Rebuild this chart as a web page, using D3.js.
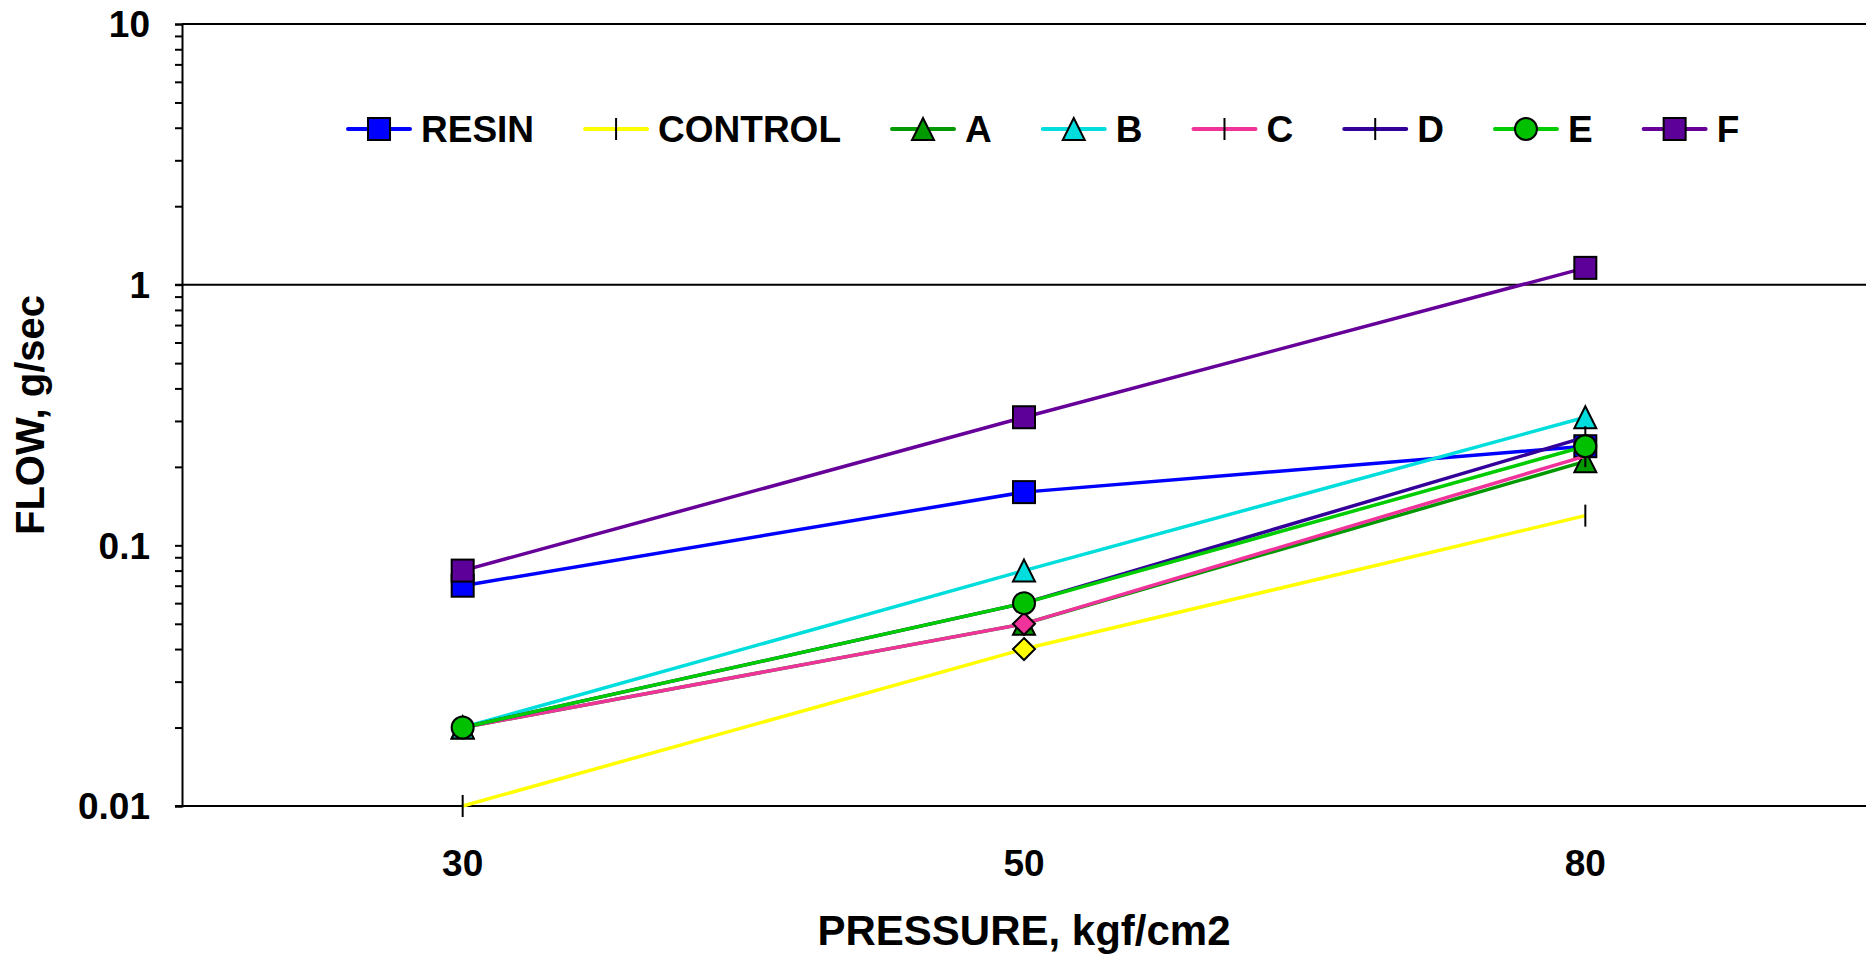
<!DOCTYPE html>
<html lang="en">
<head>
<meta charset="utf-8">
<title>Flow vs Pressure</title>
<script src="https://d3js.org/d3.v7.min.js"></script>
<style>
  body { margin: 0; background: #fff; }
  svg { display: block; font-family: "Liberation Sans", Arial, sans-serif; font-weight: bold; }
</style>
</head>
<body>
<svg width="1866" height="959"></svg>
<script>
// data
var pressures = ['30', '50', '80'];
var seriesNames = ['RESIN', 'CONTROL', 'A', 'B', 'C', 'D', 'E', 'F'];
var resin   = [0.07, 0.16, 0.24];
var control = [0.01, 0.04, 0.13];
var seriesA = [0.02, 0.05, 0.21];
var seriesB = [0.02, 0.08, 0.31];
var seriesC = [0.02, 0.05, 0.22];
var seriesD = [0.02, 0.06, 0.26];
var seriesE = [0.02, 0.06, 0.24];
var seriesF = [0.08, 0.31, 1.16];
var yTicks = [0.01, 0.1, 1, 10];
var yTickLabels = ['0.01', '0.1', '1', '10'];

var values = [resin, control, seriesA, seriesB, seriesC, seriesD, seriesE, seriesF];
var lineColors = ['#0000ff', '#ffff00', '#009900', '#00dddd', '#f0339a', '#330099', '#00cc00', '#660099'];
var fillColors = ['#0000ff', '#ffff00', '#009900', '#00dddd', '#f0339a', '#330099', '#00c000', '#5c0099'];
// marker per series (per point where Excel overrode it)
var markers = [
  ['square', 'square', 'square'],
  ['tick', 'diamond', 'tick'],
  ['triangle', 'triangle', 'triangle'],
  ['triangle', 'triangle', 'triangle'],
  ['tick', 'diamond', 'tick'],
  ['tick', 'tick', 'tick'],
  ['circle', 'circle', 'circle'],
  ['square', 'square', 'square']
];

var W = 1866, H = 959;
var plotLeft = 182, plotTop = 24, plotBottom = 806;

var svg = d3.select('svg');

var x = d3.scalePoint().domain(pressures).range([plotLeft, W]).padding(0.5);
var y = d3.scaleLog().domain([0.01, 10]).range([plotBottom, plotTop]);

// minor + major ticks on the left axis
var allTicks = [];
for (var e = -2; e < 1; e++) {
  for (var m = 1; m < 10; m++) allTicks.push(m * Math.pow(10, e));
}
allTicks.push(10);

svg.append('g')
  .attr('transform', 'translate(' + plotLeft + ',0)')
  .call(d3.axisLeft(y).tickValues(allTicks).tickSize(7).tickFormat(''))
  .call(function (g) {
    g.select('.domain').attr('stroke', '#000').attr('stroke-width', 2);
    g.selectAll('.tick line').attr('stroke', '#000').attr('stroke-width', 2);
  });

// tick labels
svg.append('g')
  .selectAll('text')
  .data(yTicks)
  .enter()
  .append('text')
  .attr('x', 150)
  .attr('y', function (d) { return y(d); })
  .attr('dy', '0.36em')
  .attr('text-anchor', 'end')
  .style('font-size', '37px')
  .text(function (d, i) { return yTickLabels[i]; });

// top border, line at 1, bottom axis line
[10, 1, 0.01].forEach(function (v) {
  svg.append('line')
    .attr('x1', plotLeft - (v === 10 ? 0 : 7)).attr('x2', W)
    .attr('y1', y(v)).attr('y2', y(v))
    .attr('stroke', '#000').attr('stroke-width', 2);
});

// x labels
svg.append('g')
  .selectAll('text')
  .data(pressures)
  .enter()
  .append('text')
  .attr('x', function (d) { return x(d); })
  .attr('y', 876)
  .attr('text-anchor', 'middle')
  .style('font-size', '37px')
  .text(function (d) { return d; });

// axis titles
svg.append('text')
  .attr('x', x('50'))
  .attr('y', 945)
  .attr('text-anchor', 'middle')
  .style('font-size', '42px')
  .text('PRESSURE, kgf/cm2');

svg.append('text')
  .attr('transform', 'rotate(-90)')
  .attr('x', -(plotTop + plotBottom) / 2)
  .attr('y', 44)
  .attr('text-anchor', 'middle')
  .style('font-size', '40px')
  .text('FLOW, g/sec');

function drawMarker(g, kind, cx, cy, fill) {
  var s = 11;
  if (kind === 'square') {
    g.append('rect').attr('x', cx - s).attr('y', cy - s).attr('width', 2 * s).attr('height', 2 * s)
      .attr('fill', fill).attr('stroke', '#000').attr('stroke-width', 2);
  } else if (kind === 'triangle') {
    g.append('path')
      .attr('d', 'M' + cx + ',' + (cy - s) + 'L' + (cx + s) + ',' + (cy + s) + 'L' + (cx - s) + ',' + (cy + s) + 'Z')
      .attr('fill', fill).attr('stroke', '#000').attr('stroke-width', 2);
  } else if (kind === 'circle') {
    g.append('circle').attr('cx', cx).attr('cy', cy).attr('r', s)
      .attr('fill', fill).attr('stroke', '#000').attr('stroke-width', 2);
  } else if (kind === 'diamond') {
    g.append('path')
      .attr('d', 'M' + cx + ',' + (cy - s) + 'L' + (cx + s) + ',' + cy + 'L' + cx + ',' + (cy + s) + 'L' + (cx - s) + ',' + cy + 'Z')
      .attr('fill', fill).attr('stroke', '#000').attr('stroke-width', 2);
  } else if (kind === 'tick') {
    g.append('line').attr('x1', cx).attr('x2', cx).attr('y1', cy - s).attr('y2', cy + s)
      .attr('stroke', '#000').attr('stroke-width', 2);
  }
}

var line = d3.line()
  .x(function (d, i) { return x(pressures[i]); })
  .y(function (d) { return y(d); });

// series, in Excel order: line then markers
values.forEach(function (vals, si) {
  var g = svg.append('g');
  g.append('path')
    .attr('d', line(vals))
    .attr('fill', 'none')
    .attr('stroke', lineColors[si])
    .attr('stroke-width', 3.5);
  vals.forEach(function (v, i) {
    drawMarker(g, markers[si][i], x(pressures[i]), y(v), fillColors[si]);
  });
});

// legend
var legend = svg.append('g');
var lx = 348, ly = 129;
seriesNames.forEach(function (name, si) {
  var g = legend.append('g');
  g.append('line')
    .attr('x1', lx).attr('x2', lx + 62)
    .attr('y1', ly).attr('y2', ly)
    .attr('stroke', lineColors[si]).attr('stroke-width', 4).attr('stroke-linecap', 'round');
  drawMarker(g, markers[si][0], lx + 31, ly, fillColors[si]);
  var t = g.append('text')
    .attr('x', lx + 73)
    .attr('y', ly)
    .attr('dy', '0.36em')
    .style('font-size', '37px')
    .text(name);
  lx += 73 + t.node().getComputedTextLength() + 51;
});
</script>
</body>
</html>
